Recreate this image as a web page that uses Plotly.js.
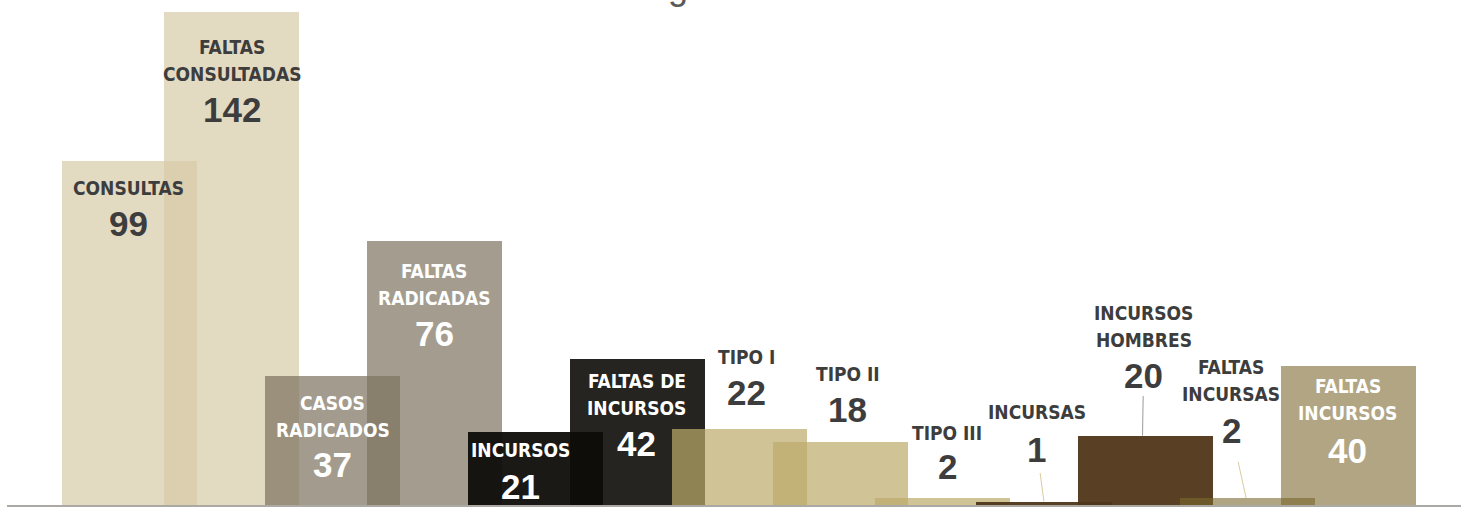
<!DOCTYPE html>
<html><head><meta charset="utf-8">
<script src="https://cdn.plot.ly/plotly-3.0.1.min.js"></script>
<style>html,body{margin:0;padding:0;background:#fff;overflow:hidden}#chart{width:1461px;height:507px;}</style>
</head><body><div id="chart"></div>
<script>
// ---- data ----
const categories = ['CONSULTAS','FALTAS CONSULTADAS','CASOS RADICADOS','FALTAS RADICADAS','INCURSOS','FALTAS DE INCURSOS','TIPO I','TIPO II','TIPO III','INCURSAS','INCURSOS HOMBRES','FALTAS INCURSAS','FALTAS INCURSOS'];
const labelLines = [['CONSULTAS'],['FALTAS','CONSULTADAS'],['CASOS','RADICADOS'],['FALTAS','RADICADAS'],['INCURSOS'],['FALTAS DE','INCURSOS'],['TIPO I'],['TIPO II'],['TIPO III'],['INCURSAS'],['INCURSOS','HOMBRES'],['FALTAS','INCURSAS'],['FALTAS','INCURSOS']];
const values = [99,142,37,76,21,42,22,18,2,1,20,2,40];
const titleText = 'g';

// ---- styles ----
const barColors = [
  'rgba(215,203,168,0.7)','rgba(215,203,168,0.7)',
  'rgba(124,112,94,0.7)','rgba(126,115,95,0.7)',
  'rgba(15,13,10,0.95)','rgba(14,12,8,0.9)',
  'rgba(188,171,106,0.7)','rgba(188,171,106,0.7)','rgba(188,171,106,0.7)',
  'rgba(80,54,24,0.95)','rgba(80,54,24,0.95)',
  'rgba(123,105,47,0.6)','rgba(118,97,39,0.57)'
];
const textColors = ['#3d3d3d','#3d3d3d','#ffffff','#ffffff','#ffffff','#ffffff','#3d3d3d','#3d3d3d','#3d3d3d','#3d3d3d','#3d3d3d','#3d3d3d','#ffffff'];
// label placement: [dx, first-line offset below bar top, number offset below bar top] in px
const labelPlace = [
  [-1,27,62],[1,35,98],[0,27,88],[0,30,92],[-15,18,54],[-1,22,84],
  [7,-72,-36],[7,-68.5,-32.5],[5,-65,-32],[-7,-89.5,-52.5],[-2,-122.5,-60.5],[-16,-131,-68],[-1,20,84]
];
// leader lines: index -> [tip dx, line colour, start standoff]
const leaders = {9:[0,'#d9cba0',3],10:[-3,'#9a9a9a',0],11:[-1,'#d9cba0',11]};

const NAME_FONT = "'DejaVu Sans Condensed',sans-serif";
const NUM_FONT = "'Liberation Sans',sans-serif";
const NAME_SIZE = 19, NUM_SIZE = 35, LINE_GAP = 27;

const annotations = [];
categories.forEach((c, i) => {
  const [dx, nameDy, numDy] = labelPlace[i];
  labelLines[i].forEach((ln, k) => {
    annotations.push({x: c, y: values[i], xref:'x', yref:'y', text: ln, showarrow:false,
      xanchor:'center', yanchor:'middle', xshift: dx, yshift: -(nameDy + k*LINE_GAP),
      font:{family:NAME_FONT, size:NAME_SIZE, color:textColors[i], weight:700}});
  });
  const numAnn = {x: c, y: values[i], xref:'x', yref:'y', text: String(values[i]),
      xanchor:'center', yanchor:'middle',
      font:{family:NUM_FONT, size:NUM_SIZE, color:textColors[i], weight:700}};
  if (leaders[i]) {
    const [tdx, col, sso] = leaders[i];
    Object.assign(numAnn, {showarrow:true, arrowhead:0, arrowwidth:1, arrowcolor:col,
      startstandoff: sso, xshift: tdx, ax: dx - tdx, ay: numDy});
  } else {
    Object.assign(numAnn, {showarrow:false, xshift: dx, yshift: -numDy});
  }
  annotations.push(numAnn);
});
annotations.push({xref:'paper', yref:'paper', x:(678-7)/1454, y:1, xanchor:'center', yanchor:'bottom',
  yshift:-9, text:titleText, showarrow:false, font:{family:"'Liberation Sans',sans-serif", size:36, color:'#595959'}});

const trace = {type:'bar', x: categories, y: values, width: 1.33,
  marker:{color: barColors, line:{width:0}}, hoverinfo:'skip'};

const layout = {
  width:1461, height:507, margin:{l:7, r:0, t:0, b:2}, paper_bgcolor:'#fff', plot_bgcolor:'#fff',
  showlegend:false, bargap:0,
  xaxis:{type:'category', range:[-1.206, 13.105], showticklabels:false, ticks:'', showgrid:false,
    zeroline:false, showline:true, linecolor:'#aaa9a3', linewidth:2, fixedrange:true},
  yaxis:{range:[0, 145.4], visible:false, fixedrange:true},
  annotations: annotations
};
Plotly.newPlot('chart', [trace], layout, {displayModeBar:false, staticPlot:true});
</script></body></html>
